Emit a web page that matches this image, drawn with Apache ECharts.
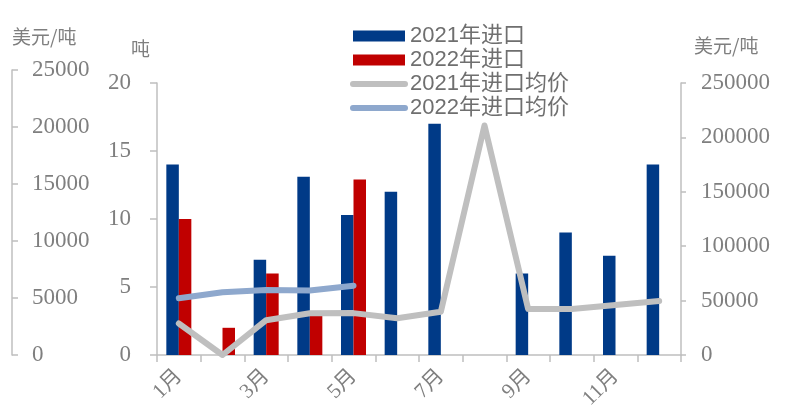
<!DOCTYPE html>
<html>
<head>
<meta charset="utf-8">
<script src="https://cdn.jsdelivr.net/npm/echarts@6/dist/echarts.min.js"></script>
<style>
  html, body { margin: 0; padding: 0; background: #fff; }
  #chart { width: 787px; height: 419px; }
</style>
</head>
<body>
<div id="chart"></div>
<script>
// Monthly categories
const months = ['1月', '2月', '3月', '4月', '5月', '6月', '7月', '8月', '9月', '10月', '11月', '12月'];

// Import volume (吨)
const import2021 = [14, null, 7, 13.1, 10.3, 12, 17, null, 6, 9, 7.3, 14];
const import2022 = [10, 2, 6, 3, 12.9, null, null, null, null, null, null, null];

// Average import price (美元/吨)
const price2021 = [29000, 0, 32000, 38300, 38500, 33700, 39800, 211000, 42300, 42300, 46000, 49600];
const price2022 = [4970, 5500, 5700, 5650, 6080, null, null, null, null, null, null, null];

// Axis tick settings
const tonTicks = { min: 0, max: 20, interval: 5 };
const priceLeftTicks = { min: 0, max: 25000, interval: 5000 };
const priceRightTicks = { min: 0, max: 250000, interval: 50000 };

const grey = '#bfbfbf';
const labelColor = '#7f7f7f';
const serif = '"Liberation Serif", "Noto Sans CJK SC", serif';
const cjk = '"Noto Sans CJK SC", sans-serif';
const plain = v => String(v);

const chart = echarts.init(document.getElementById('chart'), null, { renderer: 'canvas' });

const lineLegend = (name, color) => ({
  name: name,
  itemStyle: { opacity: 0 },
  lineStyle: { color: color, width: 6, cap: 'round' }
});

chart.setOption({
  animation: false,
  backgroundColor: '#fff',
  legend: {
    orient: 'vertical',
    left: 345,
    top: 20,
    itemWidth: 52,
    itemHeight: 11,
    itemGap: 2,
    textStyle: { fontSize: 22, lineHeight: 21, color: '#6f6f6f', fontFamily: '"Liberation Sans", "Noto Sans CJK SC", sans-serif' },
    data: [
      { name: '2021年进口', icon: 'rect' },
      { name: '2022年进口', icon: 'rect' },
      lineLegend('2021年进口均价', '#bfbfbf'),
      lineLegend('2022年进口均价', '#8ea8cd')
    ]
  },
  grid: [
    { left: 157, right: 106, top: 83, bottom: 64 },
    { left: 157, right: 106, top: 70, bottom: 64 }
  ],
  xAxis: [
    {
      type: 'category',
      gridIndex: 0,
      data: months,
      boundaryGap: true,
      axisLine: { lineStyle: { color: grey, width: 1.5 } },
      axisTick: { show: true, length: 7, alignWithLabel: false, interval: 0, lineStyle: { color: grey, width: 1.5 } },
      axisLabel: { interval: 1, rotate: 45, margin: 18, fontSize: 21, color: labelColor, fontFamily: serif }
    },
    {
      type: 'category',
      gridIndex: 1,
      data: months,
      boundaryGap: true,
      show: false
    }
  ],
  yAxis: [
    {
      type: 'value',
      gridIndex: 0,
      position: 'left',
      ...tonTicks,
      name: '吨',
      nameLocation: 'end',
      nameGap: 25,
      nameTextStyle: { fontSize: 19, color: labelColor, fontFamily: cjk, align: 'right', padding: [0, 7, 0, 0] },
      axisLine: { show: true, lineStyle: { color: grey, width: 1.5 } },
      axisTick: { show: true, length: 7, lineStyle: { color: grey, width: 1.5 } },
      axisLabel: { margin: 26, fontSize: 23, color: labelColor, fontFamily: serif, formatter: plain },
      splitLine: { show: false }
    },
    {
      type: 'value',
      gridIndex: 0,
      position: 'right',
      ...priceRightTicks,
      name: '美元/吨',
      nameLocation: 'end',
      nameGap: 28,
      nameTextStyle: { fontSize: 19, color: labelColor, fontFamily: cjk, align: 'left', padding: [0, 0, 0, 13] },
      axisLine: { show: true, lineStyle: { color: grey, width: 1.5 } },
      axisTick: { show: true, length: 5, lineStyle: { color: grey, width: 1.5 } },
      axisLabel: { margin: 20, fontSize: 23, color: labelColor, fontFamily: serif, formatter: plain },
      splitLine: { show: false }
    },
    {
      type: 'value',
      gridIndex: 1,
      position: 'left',
      offset: 145,
      ...priceLeftTicks,
      name: '美元/吨',
      nameLocation: 'end',
      nameGap: 24,
      nameTextStyle: { fontSize: 19, color: labelColor, fontFamily: cjk, align: 'left', padding: [0, 0, 0, 0] },
      axisLine: { show: true, lineStyle: { color: grey, width: 1.5 } },
      axisTick: { show: true, inside: true, length: 6, lineStyle: { color: grey, width: 1.5 } },
      axisLabel: { inside: true, margin: 20, fontSize: 23, color: labelColor, fontFamily: serif, formatter: plain },
      splitLine: { show: false }
    }
  ],
  series: [
    {
      name: '2021年进口',
      type: 'bar',
      xAxisIndex: 0,
      yAxisIndex: 0,
      data: import2021,
      barWidth: 12.5,
      barGap: '0%',
      itemStyle: { color: '#003a87' },
      z: 2
    },
    {
      name: '2022年进口',
      type: 'bar',
      xAxisIndex: 0,
      yAxisIndex: 0,
      data: import2022,
      barWidth: 12.5,
      barGap: '0%',
      itemStyle: { color: '#c00000' },
      z: 2
    },
    {
      name: '2021年进口均价',
      type: 'line',
      xAxisIndex: 0,
      yAxisIndex: 1,
      data: price2021,
      symbol: 'none',
      lineStyle: { color: '#bfbfbf', width: 6, cap: 'round', join: 'round' },
      itemStyle: { color: '#bfbfbf' },
      z: 5
    },
    {
      name: '2022年进口均价',
      type: 'line',
      xAxisIndex: 1,
      yAxisIndex: 2,
      data: price2022,
      symbol: 'none',
      lineStyle: { color: '#8ea8cd', width: 6, cap: 'round', join: 'round' },
      itemStyle: { color: '#8ea8cd' },
      z: 5
    }
  ]
});
</script>
</body>
</html>
